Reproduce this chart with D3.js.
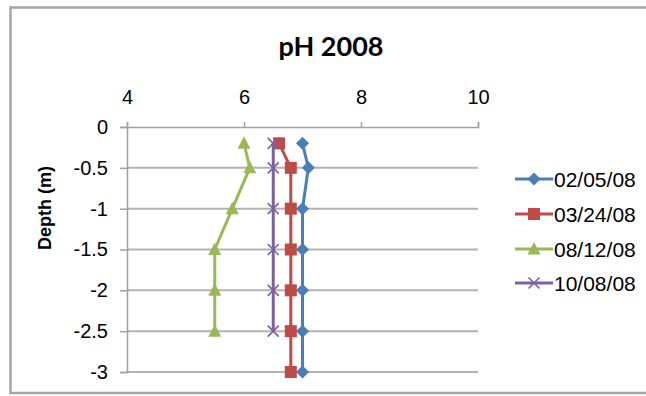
<!DOCTYPE html>
<html>
<head>
<meta charset="utf-8">
<script src="https://cdn.jsdelivr.net/npm/d3@7"></script>
<style>
  html, body { margin: 0; padding: 0; background: #fff; }
  svg { display: block; }
</style>
</head>
<body>
<svg id="chart" width="646" height="396"></svg>
<script>
// Depth profile of pH for four sampling dates in 2008
const depths = [-0.2, -0.5, -1, -1.5, -2, -2.5, -3];
const seriesNames = ["02/05/08", "03/24/08", "08/12/08", "10/08/08"];
const ph0205 = [7.0, 7.1, 7.0, 7.0, 7.0, 7.0, 7.0];
const ph0324 = [6.6, 6.8, 6.8, 6.8, 6.8, 6.8, 6.8];
const ph0812 = [6.0, 6.1, 5.8, 5.5, 5.5, 5.5];
const ph1008 = [6.5, 6.5, 6.5, 6.5, 6.5, 6.5];
const xTicks = [4, 6, 8, 10];
const yTicks = [0, -0.5, -1, -1.5, -2, -2.5, -3];

const colors = ["#4A7EBB", "#BE4B48", "#98B954", "#7D60A0"];
const markers = ["diamond", "square", "triangle", "cross"];
const seriesValues = [ph0205, ph0324, ph0812, ph1008];

const series = seriesNames.map((name, i) => ({
  name,
  color: colors[i],
  marker: markers[i],
  points: seriesValues[i].map((v, j) => ({ ph: v, depth: depths[j] }))
}));

const svg = d3.select("#chart");
const labelFont = "'Liberation Sans', Arial, sans-serif";

// chart frame
svg.append("rect")
  .attr("x", 10.5).attr("y", 7.5)
  .attr("width", 700).attr("height", 385.5)
  .attr("fill", "#fff")
  .attr("stroke", "#a6a6a6")
  .attr("stroke-width", 2.5);

const x = d3.scaleLinear().domain([4, 10]).range([127, 478]);
const y = d3.scaleLinear().domain([0, -3]).range([127, 372]);

// title
svg.append("text")
  .attr("x", 331).attr("y", 56)
  .attr("text-anchor", "middle")
  .attr("font-family", "Lato, 'Open Sans', sans-serif")
  .attr("font-weight", "bold")
  .attr("font-size", 27)
  .attr("fill", "#000")
  .text("pH 2008");

// horizontal gridlines
svg.append("g")
  .selectAll("line")
  .data(yTicks.filter(t => t !== 0))
  .join("line")
  .attr("x1", x(4)).attr("x2", x(10))
  .attr("y1", d => y(d)).attr("y2", d => y(d))
  .attr("stroke", "#b3b3b3")
  .attr("stroke-width", 2);

// top pH axis
const xAxis = svg.append("g")
  .attr("transform", `translate(0,${y(0)})`)
  .call(d3.axisTop(x).tickValues(xTicks).tickFormat(d3.format("d")).tickSize(5).tickPadding(18));
xAxis.select(".domain").attr("stroke", "#a0a0a0").attr("stroke-width", 1.5);
xAxis.selectAll(".tick line").attr("stroke", "#a0a0a0").attr("stroke-width", 1.5);
xAxis.selectAll(".tick text")
  .attr("font-family", labelFont)
  .attr("font-size", 20)
  .attr("fill", "#000");

// left depth axis
const yAxis = svg.append("g")
  .attr("transform", `translate(${x(4)},0)`)
  .call(d3.axisLeft(y).tickValues(yTicks).tickFormat(d => String(d)).tickSize(7).tickPadding(12));
yAxis.select(".domain").attr("stroke", "#a0a0a0").attr("stroke-width", 1.5);
yAxis.selectAll(".tick line").attr("stroke", "#a0a0a0").attr("stroke-width", 1.5);
yAxis.selectAll(".tick text")
  .attr("font-family", labelFont)
  .attr("font-size", 20)
  .attr("fill", "#000");

// y axis title
svg.append("text")
  .attr("transform", `translate(51,208) rotate(-90)`)
  .attr("text-anchor", "middle")
  .attr("font-family", labelFont)
  .attr("font-weight", "bold")
  .attr("font-size", 18)
  .attr("fill", "#000")
  .text("Depth (m)");

// marker drawing helper
function drawMarker(g, type, color) {
  if (type === "diamond") {
    g.append("path").attr("d", "M0,-6.5L6.5,0L0,6.5L-6.5,0Z").attr("fill", color);
  } else if (type === "square") {
    g.append("rect").attr("x", -6).attr("y", -6).attr("width", 12).attr("height", 12).attr("fill", color);
  } else if (type === "triangle") {
    g.append("path").attr("d", "M0,-7L6.5,5.5L-6.5,5.5Z").attr("fill", color);
  } else {
    g.append("path").attr("d", "M-5.5,-5.5L5.5,5.5M-5.5,5.5L5.5,-5.5")
      .attr("stroke", color).attr("stroke-width", 1.6).attr("fill", "none");
  }
}

const line = d3.line().x(d => x(d.ph)).y(d => y(d.depth));

series.forEach(s => {
  const g = svg.append("g");
  g.append("path")
    .datum(s.points)
    .attr("d", line)
    .attr("fill", "none")
    .attr("stroke", s.color)
    .attr("stroke-width", 3)
    .attr("stroke-linejoin", "round");
  s.points.forEach(p => {
    const m = g.append("g").attr("transform", `translate(${x(p.ph)},${y(p.depth)})`);
    drawMarker(m, s.marker, s.color);
  });
});

// legend
const legendY = [179, 214, 249, 283];
series.forEach((s, i) => {
  const g = svg.append("g").attr("transform", `translate(515,${legendY[i]})`);
  g.append("line").attr("x1", 0).attr("x2", 38).attr("y1", 0).attr("y2", 0)
    .attr("stroke", s.color).attr("stroke-width", 3);
  const m = g.append("g").attr("transform", "translate(19,0)");
  drawMarker(m, s.marker, s.color);
  g.append("text")
    .attr("x", 39).attr("y", 7.5)
    .attr("font-family", labelFont)
    .attr("font-size", 21)
    .attr("fill", "#000")
    .text(s.name);
});
</script>
</body>
</html>
